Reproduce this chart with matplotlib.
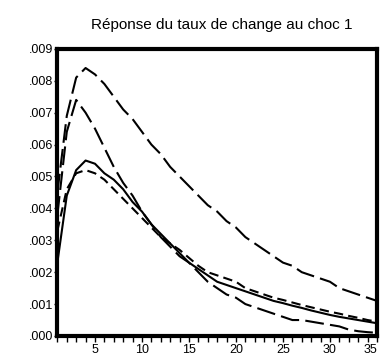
import numpy as np
import matplotlib
matplotlib.use("Agg")
import matplotlib.pyplot as plt
from matplotlib.ticker import MultipleLocator, FuncFormatter

plt.rcParams['font.family'] = ['Liberation Sans', 'DejaVu Sans']

periodes = np.arange(1, 36)
xticks = [5, 10, 15, 20, 25, 30, 35]

reponse = [0.0023, 0.0044, 0.0052, 0.0055, 0.0054, 0.0051, 0.0049, 0.0046, 0.0042, 0.0039,
           0.0035, 0.0032, 0.0029, 0.0026, 0.0023, 0.0021, 0.0019, 0.0017, 0.0016, 0.0015,
           0.0014, 0.0013, 0.0012, 0.0011, 0.00103, 0.00095, 0.00088, 0.0008, 0.00073, 0.00066,
           0.0006, 0.00055, 0.0005, 0.00045, 0.0004]

reponse_2 = [0.0033, 0.0046, 0.0051, 0.0052, 0.0051, 0.0049, 0.0046, 0.0043, 0.0040, 0.0037,
             0.0034, 0.0031, 0.0029, 0.0027, 0.00245, 0.0022, 0.0020, 0.0019, 0.0018, 0.0017,
             0.0015, 0.0014, 0.0013, 0.0012, 0.00113, 0.00105, 0.00097, 0.0009, 0.00083, 0.00076,
             0.0007, 0.00063, 0.00057, 0.0005, 0.00045]

borne_haute = [0.0045, 0.0069, 0.0081, 0.0084, 0.0082, 0.0079, 0.0075, 0.0071, 0.0068, 0.0064,
               0.0060, 0.0057, 0.0053, 0.0050, 0.0047, 0.0044, 0.0041, 0.0039, 0.0036, 0.0034,
               0.0031, 0.0029, 0.0027, 0.0025, 0.0023, 0.0022, 0.0020, 0.0019, 0.0018, 0.0017,
               0.0015, 0.0014, 0.0013, 0.0012, 0.0011]

borne_basse = [0.0038, 0.0064, 0.0074, 0.0070, 0.0065, 0.0059, 0.0053, 0.0048, 0.0044, 0.0039,
               0.0035, 0.0031, 0.0028, 0.0025, 0.0023, 0.0020, 0.0017, 0.0015, 0.0013, 0.0012,
               0.0010, 0.0009, 0.0008, 0.0007, 0.0006, 0.0005, 0.0005, 0.00045, 0.0004, 0.00035,
               0.0003, 0.0002, 0.00015, 0.00012, 0.0001]

fig = plt.figure(figsize=(3.8, 3.63), dpi=100)
ax = fig.add_axes([0.151, 0.0744, 0.841, 0.791])

ax.plot(periodes, borne_haute, color='black', lw=1.5, dashes=(9, 3))
ax.plot(periodes, borne_basse, color='black', lw=1.5, dashes=(9, 3))
ax.plot(periodes, reponse_2, color='black', lw=1.5, dashes=(4.5, 2.5))
ax.plot(periodes, reponse, color='black', lw=1.5)

ax.set_xlim(1, 35)
ax.set_ylim(0, 0.009)

for s in ax.spines.values():
    s.set_linewidth(3)

ax.set_xticks(xticks)
ax.set_xticklabels([str(t) for t in xticks])
ax.xaxis.set_minor_locator(MultipleLocator(1))
ax.yaxis.set_major_locator(MultipleLocator(0.001))
ax.yaxis.set_major_formatter(FuncFormatter(lambda v, p: ('%.3f' % v)[1:]))

ax.tick_params(axis='x', which='both', direction='out', length=4, width=1,
               labelsize=9, pad=2)
ax.tick_params(axis='y', direction='out', length=2, width=1, labelsize=9, pad=1)

# le dernier label (35) est collé au bord droit
ax.get_xticklabels()[-1].set_horizontalalignment('right')
ax.get_xticklabels()[-1].set_x(35.4)

ax.set_title('Réponse du taux de change au choc 1', fontsize=11, pad=14, x=0.515)

fig.savefig('out.png', dpi=100)
